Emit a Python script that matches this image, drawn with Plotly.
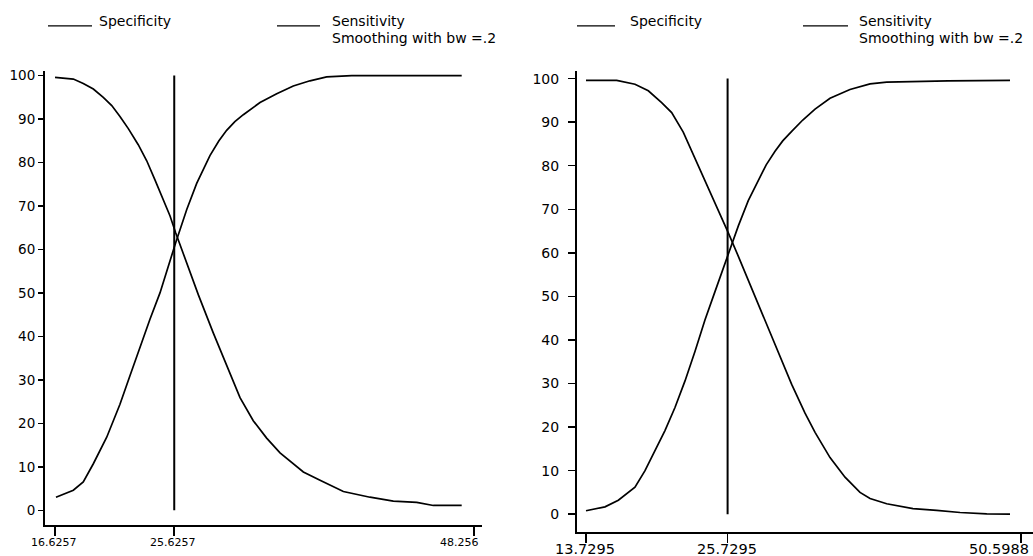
import plotly.graph_objects as go

# ---------------- data ----------------
# Left panel
left_spec_x = [16.63, 18.01, 18.76, 19.52, 20.27, 20.91, 21.53, 22.16, 22.91, 23.55, 24.17, 24.80,
               25.31, 25.74, 26.31, 27.00, 27.44, 28.57, 29.83, 30.59, 31.59, 32.60, 33.61, 35.37,
               36.63, 38.39, 40.40, 42.16, 43.93, 45.18, 47.32]
left_spec_y = [99.6, 99.2, 98.2, 96.9, 95.0, 93.1, 90.6, 87.8, 84.1, 80.4, 76.0, 71.6,
               67.7, 63.8, 59.0, 53.2, 49.6, 40.8, 31.3, 25.9, 20.6, 16.6, 13.2, 8.8,
               6.9, 4.3, 3.0, 2.1, 1.8, 1.1, 1.1]
left_sens_x = [16.70, 18.01, 18.76, 19.52, 20.53, 21.53, 22.29, 23.04, 23.80, 24.55, 25.06, 25.74,
               26.57, 27.32, 28.32, 29.00, 29.58, 30.20, 30.84, 32.10, 33.36, 34.61, 35.87, 37.13,
               39.02, 47.32]
left_sens_y = [3.0, 4.6, 6.5, 10.7, 16.8, 24.4, 31.0, 37.6, 44.0, 50.0, 55.0, 61.6,
               69.2, 75.2, 81.6, 85.0, 87.4, 89.4, 91.0, 93.8, 95.8, 97.6, 98.8, 99.7,
               100.0, 100.0]
left_cutoff = 25.6257
left_ticks = [16.6257, 25.6257, 48.256]
left_ticktext = ["16.6257", "25.6257", "48.256"]

# Right panel
right_spec_x = [13.73, 16.33, 17.88, 19.01, 20.14, 20.99, 21.97, 22.82, 23.53, 24.38, 25.09, 25.79,
                26.64, 27.48, 28.20, 28.90, 30.03, 31.16, 32.29, 33.14, 34.41, 35.68, 36.95, 37.80,
                39.21, 41.44, 43.45, 45.43, 47.69, 49.66]
right_spec_y = [99.6, 99.6, 98.7, 97.2, 94.5, 92.2, 87.7, 82.6, 78.2, 73.2, 68.8, 64.6,
                59.2, 53.8, 49.2, 44.6, 37.4, 29.8, 23.2, 18.8, 13.0, 8.5, 5.0, 3.6,
                2.4, 1.3, 0.9, 0.4, 0.1, 0.0]
right_sens_x = [13.73, 15.34, 16.47, 17.88, 18.73, 19.58, 20.42, 21.27, 22.12, 22.97, 23.81, 24.66,
                25.23, 25.79, 26.64, 27.48, 28.33, 29.00, 29.75, 30.40, 31.16, 32.10, 33.14, 34.41,
                36.10, 37.80, 39.21, 44.41, 49.66]
right_sens_y = [0.8, 1.7, 3.2, 6.2, 10.0, 14.6, 19.2, 24.5, 30.6, 37.4, 44.6, 51.1,
                55.6, 59.8, 66.2, 72.0, 76.8, 80.2, 83.3, 85.7, 87.9, 90.5, 93.0, 95.5,
                97.5, 98.8, 99.2, 99.5, 99.6]
right_cutoff = 25.7295
right_ticks = [13.7295, 25.7295, 50.5988]
right_ticktext = ["13.7295", "25.7295", "50.5988"]

y_ticks = [0, 10, 20, 30, 40, 50, 60, 70, 80, 90, 100]
legend_spec = "Specificity"
legend_sens = ["Sensitivity", "Smoothing with bw =.2"]

# ---------------- figure ----------------
W, H = 1033, 556
FONT = "DejaVu Sans"
fig = go.Figure()

line_style = dict(color="black", width=1.7)
for xs, ys, xa, ya in [(left_spec_x, left_spec_y, "x", "y"),
                       (left_sens_x, left_sens_y, "x", "y"),
                       (right_spec_x, right_spec_y, "x2", "y2"),
                       (right_sens_x, right_sens_y, "x2", "y2")]:
    fig.add_trace(go.Scatter(x=xs, y=ys, mode="lines", line=line_style,
                             xaxis=xa, yaxis=ya, showlegend=False, hoverinfo="skip"))

for c, xa, ya in [(left_cutoff, "x", "y"), (right_cutoff, "x2", "y2")]:
    fig.add_trace(go.Scatter(x=[c, c], y=[0, 100], mode="lines",
                             line=dict(color="black", width=2),
                             xaxis=xa, yaxis=ya, showlegend=False, hoverinfo="skip"))

def px(xp):
    return xp / W

def py(yp):
    return (H - yp) / H

axis_common = dict(showline=True, linecolor="black", linewidth=2, showgrid=False,
                   zeroline=False, ticks="outside", tickcolor="black", tickwidth=1.5)

fig.update_layout(
    width=W, height=H,
    margin=dict(l=0, r=0, t=0, b=0),
    paper_bgcolor="white", plot_bgcolor="white",
    font=dict(family=FONT, color="black"),
    xaxis=dict(domain=[px(45), px(482)], range=[15.872, 48.853], anchor="y",
               tickvals=left_ticks, showticklabels=False, ticklen=9, **axis_common),
    yaxis=dict(domain=[py(525), py(68)], range=[-3.43, 101.14], anchor="x",
               tickvals=y_ticks, ticklen=5, tickfont=dict(size=13.5, family=FONT),
               **axis_common),
    xaxis2=dict(domain=[px(577), 1.0], range=[12.967, 51.61], anchor="y2",
                tickvals=right_ticks, showticklabels=False, ticklen=9, **axis_common),
    yaxis2=dict(domain=[py(532), py(68)], range=[-4.11, 101.83], anchor="x2",
                tickvals=y_ticks, ticklen=7, ticklabelstandoff=6,
                tickfont=dict(size=14, family=FONT), **axis_common),
)

annotations = []
# x tick labels (last one right-aligned so it stays inside the frame)
for ticks, texts, xref, ypix, size, last_shift in [
        (left_ticks, left_ticktext, "x", 542, 11, 7),
        (right_ticks, right_ticktext, "x2", 549, 14.5, 10)]:
    for i, (v, t) in enumerate(zip(ticks, texts)):
        last = i == len(ticks) - 1
        annotations.append(dict(x=v, y=py(ypix), xref=xref, yref="paper", text=t,
                                showarrow=False, xanchor="right" if last else "center",
                                xshift=last_shift if last else -1, yanchor="middle",
                                font=dict(size=size, family=FONT, color="black")))

# legends
shapes = []
LEG = 14
for (s0, s1, t0), (q0, q1, u0) in [((48, 92, 97), (277, 320, 330)),
                                   ((577, 615, 628), (803, 848, 857))]:
    shapes.append(dict(type="line", xref="paper", yref="paper", x0=px(s0), x1=px(s1),
                       y0=py(23), y1=py(23), line=dict(color="black", width=1.3)))
    shapes.append(dict(type="line", xref="paper", yref="paper", x0=px(q0), x1=px(q1),
                       y0=py(23), y1=py(23), line=dict(color="black", width=1.3)))
    annotations.append(dict(x=px(t0), y=py(18.5), xref="paper", yref="paper", text=legend_spec,
                            showarrow=False, xanchor="left", yanchor="middle",
                            font=dict(size=LEG, family=FONT, color="black")))
    annotations.append(dict(x=px(u0), y=py(18.5), xref="paper", yref="paper", text=legend_sens[0],
                            showarrow=False, xanchor="left", yanchor="middle",
                            font=dict(size=LEG, family=FONT, color="black")))
    annotations.append(dict(x=px(u0), y=py(35.5), xref="paper", yref="paper", text=legend_sens[1],
                            showarrow=False, xanchor="left", yanchor="middle",
                            font=dict(size=LEG, family=FONT, color="black")))

fig.update_layout(annotations=annotations, shapes=shapes)
fig.write_html("out.html",
               config={"displayModeBar": False, "staticPlot": True},
               post_script="document.body.style.margin='0';document.body.style.padding='0';"
                           "document.body.style.overflow='hidden';")
